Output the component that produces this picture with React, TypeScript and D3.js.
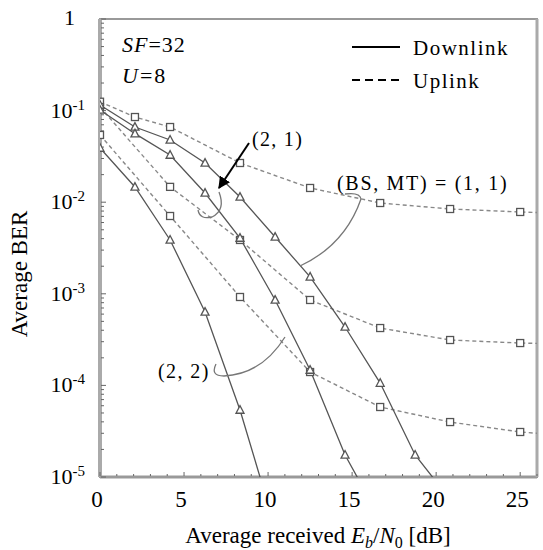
import React from "react";
import * as d3 from "d3";

// ---- data ----
const xDL11 = [0, 2.08, 4.17, 6.25, 8.33, 10.42, 12.5, 14.58, 16.67, 18.75, 20.83];
const dl11 = [0.115, 0.0662, 0.0478, 0.0268, 0.0114, 0.00417, 0.00153, 4.34e-4, 1.06e-4, 1.74e-5, 5.7e-6];

const xDL21 = [0, 2.08, 4.17, 6.25, 8.33, 10.42, 12.5, 14.58, 16.67];
const dl21 = [0.1015, 0.0560, 0.0327, 0.0126, 0.00406, 8.56e-4, 1.47e-4, 1.74e-5, 3.5e-6];

const xDL22 = [0, 2.08, 4.17, 6.25, 8.33, 10.42];
const dl22 = [0.039, 0.01465, 0.00387, 6.33e-4, 5.38e-5, 2.8e-6];

const xUL11 = [0, 2.08, 4.17, 8.33, 12.5, 16.67, 20.83, 25, 27.08];
const ul11 = [0.125, 0.0851, 0.0662, 0.0268, 0.0143, 0.0098, 0.00843, 0.00782, 0.0076];

const xUL21 = [0, 4.17, 8.33, 12.5, 16.67, 20.83, 25, 27.08];
const ul21 = [0.1094, 0.0147, 0.00387, 8.56e-4, 4.23e-4, 3.13e-4, 2.9e-4, 2.85e-4];

const xUL22 = [0, 4.17, 8.33, 12.5, 16.67, 20.83, 25, 27.08];
const ul22 = [0.0542, 0.00707, 9.23e-4, 1.40e-4, 5.81e-5, 3.98e-5, 3.1e-5, 2.9e-5];

const xTicks = [0, 5, 10, 15, 20, 25];
const yExps = [0, -1, -2, -3, -4, -5];

const W = 543, H = 550;
const L = 100, R = 537, T = 19, B = 477;

const xScale = d3.scaleLinear().domain([0, 26]).range([L, R]);
const yScale = d3.scaleLog().domain([1e-5, 1]).range([B, T]);

const FONT = "Liberation Serif";

function toPts(xs: number[], ys: number[]): [number, number][] {
  return xs.map((x, i) => [xScale(x), yScale(ys[i])]);
}

const lineGen = d3.line<[number, number]>().x(d => d[0]).y(d => d[1]);

function Square({ x, y }: { x: number; y: number }) {
  const s = 7;
  return <rect x={x - s / 2} y={y - s / 2} width={s} height={s} fill="white" stroke="#555" strokeWidth={1.3} />;
}
function Tri({ x, y }: { x: number; y: number }) {
  const s = 8;
  const p = `${x},${y - s * 0.55} ${x - s / 2},${y + s * 0.4} ${x + s / 2},${y + s * 0.4}`;
  return <polygon points={p} fill="white" stroke="#555" strokeWidth={1.3} />;
}

export default function App() {
  const dlSeries = [toPts(xDL11, dl11), toPts(xDL21, dl21), toPts(xDL22, dl22)];
  const ulSeries = [toPts(xUL11, ul11), toPts(xUL21, ul21), toPts(xUL22, ul22)];
  const minor: number[] = [];
  for (let e = -5; e < 0; e++) for (let m = 2; m <= 9; m++) minor.push(m * Math.pow(10, e));
  const xMinor = d3.range(0, 27, 1);
  return (
    <svg width={W} height={H} style={{ position: "absolute", left: 0, top: 0, background: "white", fontFamily: FONT }}>
      <defs>
        <clipPath id="plot"><rect x={L} y={T} width={R - L} height={B - T} /></clipPath>
        <marker id="arr" viewBox="0 0 10 10" refX="9" refY="5" markerWidth="6" markerHeight="6" orient="auto">
          <path d="M0,0 L10,5 L0,10 z" fill="black" />
        </marker>
      </defs>
      {/* frame */}
      <rect x={L} y={T} width={R - L} height={B - T} fill="white" stroke="#999" strokeWidth={2} />
      <line x1={L} y1={T} x2={L} y2={B} stroke="#aaa" strokeWidth={4} />
      <line x1={L} y1={B} x2={R} y2={B} stroke="#999" strokeWidth={3} />
      <line x1={R} y1={T} x2={R} y2={B} stroke="#aaa" strokeWidth={3} />
      {/* ticks */}
      {minor.map((v, i) => (
        <line key={"ym" + i} x1={L + 1} x2={L + 4} y1={yScale(v)} y2={yScale(v)} stroke="#666" strokeWidth={1} />
      ))}
      {yExps.map(e => (
        <line key={"yM" + e} x1={L + 1} x2={L + 6} y1={yScale(Math.pow(10, e))} y2={yScale(Math.pow(10, e))} stroke="#666" strokeWidth={1} />
      ))}
      {xMinor.map(v => (
        <line key={"xm" + v} x1={xScale(v)} x2={xScale(v)} y1={B - 1} y2={B - (v % 5 === 0 ? 5 : 3)} stroke="#666" strokeWidth={1} />
      ))}
      {/* curves */}
      <g clipPath="url(#plot)">
        {ulSeries.map((pts, i) => (
          <path key={"ul" + i} d={lineGen(pts) || ""} fill="none" stroke="#888" strokeWidth={1.4} strokeDasharray="4,3" />
        ))}
        {dlSeries.map((pts, i) => (
          <path key={"dl" + i} d={lineGen(pts) || ""} fill="none" stroke="#555" strokeWidth={1.3} />
        ))}
        {ulSeries.map((pts, i) => pts.map((p, j) => <Square key={`us${i}-${j}`} x={p[0]} y={p[1]} />))}
        {dlSeries.map((pts, i) => pts.map((p, j) => <Tri key={`dt${i}-${j}`} x={p[0]} y={p[1]} />))}
      </g>
      {/* y tick labels */}
      {yExps.map(e =>
        e === 0 ? (
          <text key={"yl" + e} x={75} y={yScale(1) + 6} fontSize={22} textAnchor="end">1</text>
        ) : (
          <text key={"yl" + e} x={85} y={yScale(Math.pow(10, e)) + 7} fontSize={22} textAnchor="end">
            10<tspan dy={-8} fontSize={15}>{String(e)}</tspan>
          </text>
        )
      )}
      {/* x tick labels */}
      {xTicks.map(t => (
        <text key={"xl" + t} x={xScale(t) - 3} y={507} fontSize={23} textAnchor="middle">{t}</text>
      ))}
      {/* axis titles */}
      <text x={318} y={543} fontSize={23} textAnchor="middle">
        Average received <tspan fontStyle="italic">E</tspan><tspan fontStyle="italic" fontSize={16} dy={5}>b</tspan>
        <tspan dy={-5}>/</tspan><tspan fontStyle="italic">N</tspan><tspan fontSize={16} dy={5}>0</tspan><tspan dy={-5}> [dB]</tspan>
      </text>
      <text transform="translate(27,274) rotate(-90)" fontSize={23} textAnchor="middle">Average BER</text>
      {/* parameters */}
      <text x={122} y={52} fontSize={22} letterSpacing={1}><tspan fontStyle="italic">SF</tspan>=32</text>
      <text x={122} y={83} fontSize={22} letterSpacing={2}><tspan fontStyle="italic">U</tspan>=8</text>
      {/* legend */}
      <line x1={352} x2={400} y1={47} y2={47} stroke="black" strokeWidth={2} />
      <text x={413} y={55} fontSize={21} letterSpacing={1.5}>Downlink</text>
      <line x1={352} x2={400} y1={80} y2={80} stroke="black" strokeWidth={2} strokeDasharray="8,5" />
      <text x={413} y={88} fontSize={21} letterSpacing={1.5}>Uplink</text>
      {/* annotations */}
      <text x={252} y={146} fontSize={20} letterSpacing={1.3}>(2, 1)</text>
      <line x1={249} y1={143} x2={219} y2={188} stroke="black" strokeWidth={2} markerEnd="url(#arr)" />
      <path d="M219,192 Q226,210 212,217 Q200,220 198,210" fill="none" stroke="#777" strokeWidth={1.3} />
      <text x={337} y={190} fontSize={20} letterSpacing={1.7}>(BS, MT) = (1, 1)</text>
      <path d="M345,194 Q360,192 361,199 Q345,245 300,266" fill="none" stroke="#777" strokeWidth={1.3} />
      <text x={158} y={378} fontSize={20} letterSpacing={1.4}>(2, 2)</text>
      <path d="M216,364 Q210,376 224,376 Q262,374 285,337" fill="none" stroke="#777" strokeWidth={1.3} />
    </svg>
  );
}
